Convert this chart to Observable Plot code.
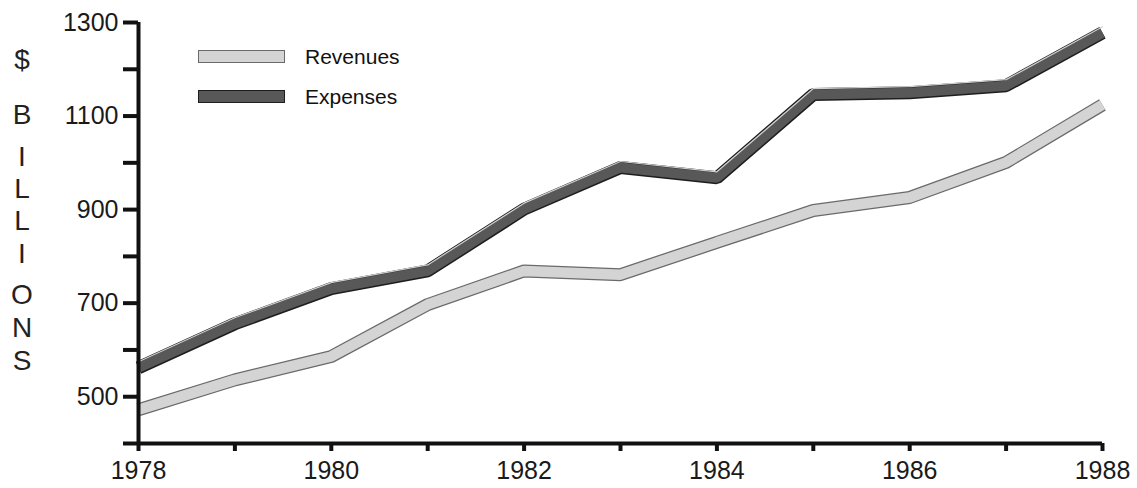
<!DOCTYPE html>
<html>
<head>
<meta charset="utf-8">
<script src="https://cdn.jsdelivr.net/npm/d3@7"></script>
<script src="https://cdn.jsdelivr.net/npm/@observablehq/plot@0.6"></script>
<style>
  html, body { margin: 0; padding: 0; background: #fff; }
  #wrap { position: relative; width: 1137px; height: 488px; font-family: "Liberation Sans", Arial, sans-serif; }
  #wrap svg { position: absolute; left: 0; top: 0; }
  .leg { position: absolute; display: flex; align-items: center; font-size: 21px; color: #111; line-height: 1; }
  .sw { width: 87px; height: 13px; margin-right: 20px; box-sizing: border-box; }
  .ylet { position: absolute; left: 22px; transform: translate(-50%, -50%); font-size: 28px; color: #222; line-height: 1; }
</style>
</head>
<body>
<div id="wrap"></div>
<script>
const years = [1978, 1979, 1980, 1981, 1982, 1983, 1984, 1985, 1986, 1987, 1988];
const revenues = [472, 536, 586, 697, 769, 761, 830, 898, 926, 1001, 1124];
const expenses = [562, 656, 731, 769, 901, 990, 968, 1146, 1150, 1165, 1278];
const seriesNames = ["Revenues", "Expenses"];
const yTicks = [400, 500, 600, 700, 800, 900, 1000, 1100, 1200, 1300];
const yLabels = [500, 700, 900, 1100, 1300];
const xLabels = [1978, 1980, 1982, 1984, 1986, 1988];
const yTitle = ["$", "B", "I", "L", "L", "I", "O", "N", "S"];

const rev = years.map((y, i) => ({year: y, value: revenues[i]}));
const exp = years.map((y, i) => ({year: y, value: expenses[i]}));

const chart = Plot.plot({
  width: 1137,
  height: 488,
  marginLeft: 138,
  marginRight: 35,
  marginTop: 22,
  marginBottom: 45,
  style: {fontFamily: "'Liberation Sans', Arial, sans-serif", fontSize: "25px", color: "#1a1a1a", background: "transparent"},
  x: {domain: [1978, 1988], label: null},
  y: {domain: [400, 1300], label: null},
  marks: [
    // ribbons
    Plot.line(rev, {x: "year", y: "value", stroke: "#6a6a6a", strokeWidth: 13, strokeLinejoin: "miter", strokeLinecap: "butt"}),
    Plot.line(rev, {x: "year", y: "value", stroke: "#d4d4d4", strokeWidth: 10.5, strokeLinejoin: "miter", strokeLinecap: "butt"}),
    Plot.line(exp, {x: "year", y: "value", stroke: "#1e1e1e", strokeWidth: 13, strokeLinejoin: "miter", strokeLinecap: "butt"}),
    Plot.line(exp, {x: "year", y: "value", stroke: "#585858", strokeWidth: 10, strokeLinejoin: "miter", strokeLinecap: "butt"}),
    Plot.line(exp, {x: "year", y: "value", stroke: "#d0d0d0", strokeWidth: 1.2, dy: -6, strokeLinejoin: "miter"}),
    // axes
    Plot.axisY({ticks: yTicks, tickSize: 15, tickPadding: 5, strokeWidth: 4, stroke: "#111", label: null,
      tickFormat: d => yLabels.includes(d) ? String(d) : "", fontSize: 25}),
    Plot.axisX({ticks: years, tickSize: 8, tickPadding: 10, strokeWidth: 4, stroke: "#111", label: null,
      tickFormat: d => xLabels.includes(d) ? String(d) : "", fontSize: 25}),
    Plot.ruleX([1978], {y1: 400, y2: 1300, stroke: "#111", strokeWidth: 4}),
    Plot.ruleY([400], {x1: 1978, x2: 1988, stroke: "#111", strokeWidth: 4})
  ]
});

const wrap = document.getElementById("wrap");
wrap.appendChild(chart);

// vertical y title
const yPos = [60, 115, 157, 189, 221, 254, 295, 328, 361];
yTitle.forEach((ch, i) => {
  const d = document.createElement("div");
  d.className = "ylet";
  d.style.top = yPos[i] + "px";
  d.textContent = ch;
  wrap.appendChild(d);
});

// legend
const legColors = [["#d4d4d4", "#6a6a6a"], ["#585858", "#1e1e1e"]];
const legTop = [56, 96];
seriesNames.forEach((name, i) => {
  const row = document.createElement("div");
  row.className = "leg";
  row.style.left = "198px";
  row.style.top = (legTop[i] - 12) + "px";
  row.style.height = "24px";
  const sw = document.createElement("div");
  sw.className = "sw";
  sw.style.background = legColors[i][0];
  sw.style.border = "1px solid " + legColors[i][1];
  const t = document.createElement("span");
  t.textContent = name;
  row.appendChild(sw);
  row.appendChild(t);
  wrap.appendChild(row);
});
</script>
</body>
</html>
